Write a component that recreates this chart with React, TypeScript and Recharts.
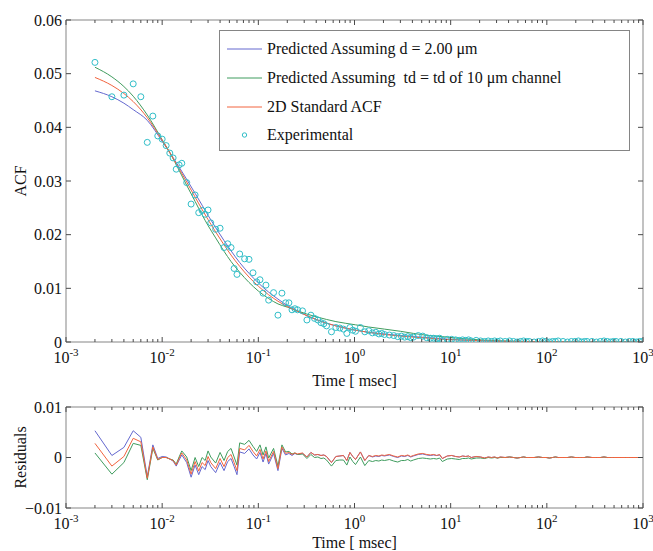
import React from "react"
import {
  ComposedChart,
  LineChart,
  Line,
  Scatter,
  XAxis,
  YAxis,
  ReferenceLine,
  Legend,
} from "recharts"

// lag times of the correlator (msec)
const TIME = [
  0.002, 0.003, 0.004, 0.005, 0.006, 0.007, 0.008, 0.009, 0.01, 0.011, 0.012, 0.013, 0.014, 0.015, 0.016,
  0.018, 0.02, 0.022, 0.024, 0.026, 0.028, 0.03, 0.032,
  0.036, 0.04, 0.044, 0.048, 0.052, 0.056, 0.06, 0.064,
  0.072, 0.08, 0.088, 0.096, 0.104, 0.112, 0.12, 0.128,
  0.144, 0.16, 0.176, 0.192, 0.208, 0.224, 0.24, 0.256,
  0.288, 0.32, 0.352, 0.384, 0.416, 0.448, 0.48, 0.512,
  0.576, 0.64, 0.704, 0.768, 0.832, 0.896, 0.96, 1.024,
  1.152, 1.28, 1.408, 1.536, 1.664, 1.792, 1.92, 2.048,
  2.304, 2.56, 2.816, 3.072, 3.328, 3.584, 3.84, 4.096,
  4.608, 5.12, 5.632, 6.144, 6.656, 7.168, 7.68, 8.192,
  9.216, 10.24, 11.26, 12.29, 13.31, 14.34, 15.36, 16.38,
  18.43, 20.48, 22.53, 24.58, 26.62, 28.67, 30.72, 32.77,
  36.86, 40.96, 45.06, 49.15, 53.25, 57.34, 61.44, 65.54,
  73.73, 81.92, 90.11, 98.3, 106.5, 114.7, 122.9, 131.1,
  147.5, 163.8, 180.2, 196.6, 213.0, 229.4, 245.8, 262.1,
  294.9, 327.7, 360.4, 393.2, 426.0, 458.8, 491.5, 524.3,
  589.8, 655.4, 720.9, 786.4, 851.9, 917.5, 983.0,
]

const EXPERIMENTAL = [
  0.0521, 0.0457, 0.046, 0.0481, 0.0457, 0.0372, 0.0421, 0.0384, 0.0378, 0.0366, 0.0352, 0.0343, 0.0322, 0.033, 0.0333,
  0.0297, 0.0257, 0.0274, 0.0241, 0.0245, 0.0238, 0.0246, 0.0222,
  0.021, 0.0212, 0.0176, 0.0183, 0.0176, 0.0137, 0.0126, 0.0164,
  0.0155, 0.0154, 0.0129, 0.0112, 0.0116, 0.0091, 0.0106, 0.0078,
  0.0092, 0.005, 0.0091, 0.0073, 0.0073, 0.006, 0.0062, 0.006,
  0.0058, 0.0041, 0.005, 0.0044, 0.0041, 0.0036, 0.0034, 0.003,
  0.0019, 0.0027, 0.0026, 0.0024, 0.0016, 0.0027, 0.0022, 0.002,
  0.0027, 0.0019, 0.0021, 0.0017, 0.0018, 0.0015, 0.0016, 0.0014,
  0.0013, 0.0012, 0.001, 0.0011, 0.0009, 0.001, 0.0008, 0.0009,
  0.0012, 0.0011, 0.0008, 0.0007, 0.0007, 0.0006, 0.0007, 0.0003,
  0.0005, 0.0005, 0.0004, 0.0003, 0.0004, 0.0003, 0.0004, 0.0002,
  0.0003, 0.0002, 0.0001, 0.0002, 0.0001, 0.0002, 0.0001, 0.0002,
  0.0001, 0.0002, 0.0001, 0.0, 0.0001, 0.0002, 0.0001, 0.0001,
  0.0, 0.0001, 0.0002, 0.0001, 0.0, 0.0001, 0.0001, 0.0002,
  0.0001, 0.0, 0.0001, 0.0001, 0.0002, 0.0, 0.0001, 0.0001,
  0.0001, 0.0, 0.0001, 0.0002, 0.0001, 0.0, 0.0001, 0.0001,
  0.0001, 0.0, 0.0001, 0.0001, 0.0, 0.0001, 0.0001,
]

const RES_BLUE = [
  0.0053, 0.0004, 0.002, 0.0053, 0.004, -0.0038, 0.0025, -0.0002, 0.0002, 0.0001, -0.0003, -0.0007, -0.0017, -0.0005, 0.0005,
  -0.001, -0.0039, -0.0015, -0.0034, -0.0018, -0.0024, -0.0006, -0.0018,
  -0.003, -0.001, -0.0026, -0.0008, -0.0002, -0.0018, -0.0034, 0.0011,
  0.0008, 0.0017, 0.0005, -0.0003, 0.001, -0.0009, 0.0008, -0.0013,
  0.0008, -0.0026, 0.0018, 0.0005, 0.0008, 0.0004, 0.0008, 0.0006,
  0.0008, 0.0001, 0.001, 0.0005, 0.0006, 0.0004, 0.0005, 0.0002,
  -0.001, 0.0002, 0.0003, 0.0004, -0.0006, 0.001, 0.0002, -0.0004,
  0.0011, -0.0006, 0.0004, 0.0001, 0.0003, 0.0002, 0.0004, 0.0003,
  0.0005, 0.0002, 0.0, 0.0003, 0.0002, 0.0004, 0.0001, 0.0003,
  0.0006, 0.0007, 0.0005, 0.0004, 0.0005, 0.0004, 0.0005, -0.0002,
  0.0003, 0.0004, 0.0002, 0.0001, 0.0003, 0.0002, 0.0003, 0.0,
  0.0002, 0.0001, -0.0001, 0.0001, 0.0, 0.0001, -0.0001, 0.0001,
  0.0, 0.0001, 0.0, -0.0001, 0.0, 0.0001, 0.0, 0.0,
  0.0, 0.0001, 0.0, 0.0, -0.0001, 0.0, 0.0001, 0.0,
  0.0, 0.0, 0.0001, 0.0, 0.0, 0.0, 0.0, 0.0001,
  0.0, 0.0, 0.0, 0.0001, 0.0, 0.0, 0.0, 0.0,
  0.0, 0.0, 0.0, 0.0, 0.0, 0.0, 0.0,
]

const RES_GREEN = [
  0.0009, -0.0033, -0.001, 0.0028, 0.0024, -0.0044, 0.0018, -0.0005, 0.0, 0.0, -0.0003, -0.0005, -0.0013, 0.0001, 0.0013,
  0.0001, -0.0026, 0.0, -0.0018, 0.0, -0.0006, 0.0013, 0.0001,
  -0.0011, 0.001, -0.0006, 0.0012, 0.0018, 0.0001, -0.0015, 0.0029,
  0.0026, 0.0034, 0.0022, 0.0012, 0.0025, 0.0005, 0.0021, -0.0001,
  0.0018, -0.0017, 0.0025, 0.0011, 0.0012, 0.0007, 0.0009, 0.0006,
  0.0007, -0.0002, 0.0006, 0.0, 0.0001, -0.0002, -0.0001, -0.0005,
  -0.0017, -0.0006, -0.0005, -0.0005, -0.0015, 0.0001, -0.0008, -0.0014,
  0.0001, -0.0016, -0.0006, -0.0008, -0.0006, -0.0007, -0.0005, -0.0006,
  -0.0004, -0.0007, -0.0009, -0.0006, -0.0006, -0.0004, -0.0007, -0.0005,
  -0.0002, -0.0001, -0.0002, -0.0003, -0.0002, -0.0003, -0.0001, -0.0008,
  -0.0003, -0.0002, -0.0003, -0.0004, -0.0002, -0.0002, -0.0001, -0.0003,
  -0.0001, -0.0001, -0.0002, 0.0, -0.0001, 0.0, -0.0001, 0.0,
  0.0, 0.0001, 0.0, -0.0001, 0.0, 0.0001, 0.0, 0.0,
  0.0, 0.0001, 0.0, 0.0, -0.0001, 0.0, 0.0001, 0.0,
  0.0, 0.0, 0.0001, 0.0, 0.0, 0.0, 0.0, 0.0001,
  0.0, 0.0, 0.0, 0.0001, 0.0, 0.0, 0.0, 0.0,
  0.0, 0.0, 0.0, 0.0, 0.0, 0.0, 0.0,
]

const RES_RED = [
  0.0028, -0.0017, 0.0002, 0.0038, 0.0031, -0.0041, 0.0021, -0.0004, 0.0, 0.0, -0.0003, -0.0006, -0.0015, -0.0002, 0.0009,
  -0.0005, -0.0033, -0.0008, -0.0027, -0.001, -0.0016, 0.0002, -0.001,
  -0.0022, -0.0002, -0.0018, 0.0, 0.0006, -0.001, -0.0026, 0.0018,
  0.0015, 0.0024, 0.0012, 0.0003, 0.0016, -0.0003, 0.0013, -0.0008,
  0.0012, -0.0022, 0.0021, 0.0008, 0.001, 0.0006, 0.0009, 0.0007,
  0.0009, 0.0001, 0.001, 0.0005, 0.0006, 0.0004, 0.0005, 0.0002,
  -0.001, 0.0002, 0.0003, 0.0004, -0.0006, 0.001, 0.0002, -0.0004,
  0.0011, -0.0006, 0.0004, 0.0002, 0.0004, 0.0003, 0.0005, 0.0004,
  0.0006, 0.0003, 0.0001, 0.0004, 0.0003, 0.0005, 0.0002, 0.0004,
  0.0007, 0.0008, 0.0006, 0.0005, 0.0006, 0.0004, 0.0006, -0.0002,
  0.0003, 0.0004, 0.0002, 0.0001, 0.0003, 0.0002, 0.0003, 0.0,
  0.0002, 0.0001, -0.0001, 0.0001, 0.0, 0.0001, -0.0001, 0.0001,
  0.0, 0.0001, 0.0, -0.0001, 0.0, 0.0001, 0.0, 0.0,
  0.0, 0.0001, 0.0, 0.0, -0.0001, 0.0, 0.0001, 0.0,
  0.0, 0.0, 0.0001, 0.0, 0.0, 0.0, 0.0, 0.0001,
  0.0, 0.0, 0.0, 0.0001, 0.0, 0.0, 0.0, 0.0,
  0.0, 0.0, 0.0, 0.0, 0.0, 0.0, 0.0,
]

// model curves, sampled more coarsely
const FIT_TIME = [
  0.002, 0.003, 0.004, 0.005, 0.007, 0.01, 0.012, 0.015, 0.018, 0.022,
  0.026, 0.03, 0.036, 0.044, 0.052, 0.064, 0.08, 0.1, 0.128, 0.16,
  0.2, 0.256, 0.32, 0.4, 0.512, 0.64, 0.8, 1.024, 1.4, 2.048,
  3, 4.096, 6, 8.192, 12, 16.38, 25, 32.77, 50, 65.5,
  100, 131, 262, 524, 1000,
]

const FIT_BLUE = [
  0.0468, 0.0457, 0.0445, 0.0433, 0.0413, 0.0374, 0.0353, 0.0326, 0.0303, 0.0277,
  0.0255, 0.0236, 0.0213, 0.0189, 0.017, 0.0148, 0.0128, 0.011, 0.0093, 0.008,
  0.0068, 0.0058, 0.0049, 0.0042, 0.0035, 0.003, 0.0026, 0.0022, 0.0018, 0.0015,
  0.0012, 0.001, 0.0008, 0.0006, 0.0004, 0.0003, 0.0002, 0.00015, 0.0001, 0.00008,
  0.00005, 0.00004, 0.00002, 0.00001, 0,
]

const FIT_GREEN = [
  0.0512, 0.0494, 0.0476, 0.0458, 0.0423, 0.0377, 0.0353, 0.032, 0.0292, 0.0262,
  0.0237, 0.0217, 0.0194, 0.0169, 0.015, 0.013, 0.0111, 0.0095, 0.0081, 0.0071,
  0.0065, 0.0058, 0.0052, 0.0047, 0.0042, 0.0038, 0.0035, 0.0032, 0.0028, 0.0024,
  0.002, 0.0016, 0.0012, 0.001, 0.0007, 0.0005, 0.0003, 0.0002, 0.00012, 0.0001,
  0.00006, 0.00004, 0.00002, 0.00001, 0,
]

const FIT_RED = [
  0.0493, 0.0478, 0.0463, 0.0448, 0.0418, 0.0376, 0.0353, 0.0323, 0.0298, 0.027,
  0.0247, 0.0228, 0.0205, 0.0181, 0.0162, 0.0141, 0.0121, 0.0104, 0.0088, 0.0076,
  0.0066, 0.0057, 0.0049, 0.0042, 0.0035, 0.003, 0.0026, 0.0022, 0.0018, 0.0014,
  0.0011, 0.0009, 0.0007, 0.0005, 0.0004, 0.0003, 0.0002, 0.00015, 0.0001, 0.00008,
  0.00005, 0.00004, 0.00002, 0.00001, 0,
]

const X_MAJOR = [0.001, 0.01, 0.1, 1, 10, 100, 1000]
const X_MINOR = [
  0.002, 0.003, 0.004, 0.005, 0.006, 0.007, 0.008, 0.009,
  0.02, 0.03, 0.04, 0.05, 0.06, 0.07, 0.08, 0.09,
  0.2, 0.3, 0.4, 0.5, 0.6, 0.7, 0.8, 0.9,
  2, 3, 4, 5, 6, 7, 8, 9,
  20, 30, 40, 50, 60, 70, 80, 90,
  200, 300, 400, 500, 600, 700, 800, 900,
]
const ACF_TICKS = [0, 0.01, 0.02, 0.03, 0.04, 0.05, 0.06]
const RES_TICKS = [-0.01, 0, 0.01]

const LEGEND_NAMES = [
  "Predicted Assuming d = 2.00 \u03bcm",
  "Predicted Assuming  td = td of 10 \u03bcm channel",
  "2D Standard ACF",
  "Experimental",
]

const FONT = '"Liberation Serif", "Times New Roman", serif'
const BOX = "#858585"
const TICK = "#4a4a4a"
const BLUE = "#6468cf"
const GREEN = "#3f9c5e"
const RED = "#f2643f"
const CYAN = "#30bec8"

const WIDTH = 653
const PLOT_LEFT = 66
const PLOT_RIGHT = 10
const PLOT_W = WIDTH - PLOT_LEFT - PLOT_RIGHT
const TOP_H = 392
const TOP_MARGIN = 20
const TOP_AXIS_H = 50
const TOP_PLOT_H = TOP_H - TOP_MARGIN - TOP_AXIS_H
const RES_H = 159
const RES_MARGIN = 15
const RES_AXIS_H = 43
const RES_PLOT_H = RES_H - RES_MARGIN - RES_AXIS_H

const xTicks = [...X_MAJOR, ...X_MINOR]
const expPoints = TIME.map((t, i) => ({ t, v: EXPERIMENTAL[i] }))
const fitPoints = (vals: number[]) => FIT_TIME.map((t, i) => ({ t, v: vals[i] }))
const resPoints = (vals: number[]) => TIME.map((t, i) => ({ t, v: vals[i] }))

function LogTick(props: any) {
  const { x, y, payload, plotH } = props
  const p = Math.log10(payload.value)
  const major = Math.abs(p - Math.round(p)) < 1e-6
  const len = major ? 5 : 3
  return (
    <g>
      <line x1={x} x2={x} y1={y} y2={y - len} stroke={TICK} />
      <line x1={x} x2={x} y1={y - plotH} y2={y - plotH + len} stroke={TICK} />
      {major ? (
        <text x={x} y={y + 21} textAnchor="middle" fontSize={16} fill="#111">
          10<tspan dy={-7} fontSize={11}>{Math.round(p)}</tspan>
        </text>
      ) : null}
    </g>
  )
}

function ValueTick(props: any) {
  const { x, y, payload, fmt } = props
  return (
    <g>
      <line x1={x} x2={x + 5} y1={y} y2={y} stroke={TICK} />
      <line x1={x + PLOT_W} x2={x + PLOT_W - 5} y1={y} y2={y} stroke={TICK} />
      <text x={x - 4} y={y} dy="0.35em" textAnchor="end" fontSize={16} fill="#111">
        {fmt(payload.value)}
      </text>
    </g>
  )
}

const fmtAcf = (v: number) => (v === 0 ? "0" : v.toFixed(2))
const fmtRes = (v: number) => (v === 0 ? "0" : v < 0 ? "\u2212" + Math.abs(v).toFixed(2) : v.toFixed(2))

const Ring = (p: any) => (
  <circle cx={p.cx} cy={p.cy} r={3} fill="none" stroke={CYAN} strokeWidth={1} />
)

function LegendBox() {
  const colors = [BLUE, GREEN, RED, CYAN]
  return (
    <div
      style={{
        width: 411,
        height: 121,
        boxSizing: "border-box",
        border: `1px solid ${BOX}`,
        background: "#fff",
        paddingTop: 4,
        fontFamily: FONT,
        fontSize: 16,
        color: "#111",
      }}
    >
      {LEGEND_NAMES.map((name, i) => (
        <div key={name} style={{ height: 28.7, display: "flex", alignItems: "center", whiteSpace: "pre" }}>
          <svg width={35} height={10} style={{ marginLeft: 7, marginRight: 5 }}>
            {i < 3 ? (
              <line x1={0} x2={35} y1={5} y2={5} stroke={colors[i]} />
            ) : (
              <circle cx={17.5} cy={5} r={2.2} fill="none" stroke={CYAN} />
            )}
          </svg>
          <span>{name}</span>
        </div>
      ))}
    </div>
  )
}

const xTitle = (baseline: number) => () => (
  <text x={PLOT_LEFT + PLOT_W / 2} y={baseline} textAnchor="middle" fontSize={16} fill="#111">
    Time [ msec]
  </text>
)

const yTitle = (text: string, center: number) => () => (
  <text
    transform={`translate(20, ${center}) rotate(-90)`}
    dy="0.35em"
    textAnchor="middle"
    fontSize={16}
    fill="#111"
  >
    {text}
  </text>
)

export default function App() {
  return (
    <div
      style={{
        position: "absolute",
        left: 0,
        top: 0,
        width: WIDTH,
        height: TOP_H + RES_H,
        background: "#fff",
        fontFamily: FONT,
      }}
    >
      <div style={{ position: "absolute", left: 0, top: 0 }}>
        <ComposedChart
          width={WIDTH}
          height={TOP_H}
          margin={{ top: TOP_MARGIN, right: PLOT_RIGHT, bottom: 0, left: 0 }}
        >
          <XAxis
            xAxisId="time"
            dataKey="t"
            type="number"
            scale="log"
            domain={[0.001, 1000]}
            allowDataOverflow
            ticks={xTicks}
            interval={0}
            height={TOP_AXIS_H}
            tickSize={0}
            tickMargin={0}
            tickLine={false}
            axisLine={{ stroke: BOX }}
            tick={(p: any) => <LogTick {...p} plotH={TOP_PLOT_H} />}
            label={xTitle(TOP_H - 6)}
          />
          <YAxis
            yAxisId="acf"
            type="number"
            domain={[0, 0.06]}
            allowDataOverflow
            ticks={ACF_TICKS}
            interval={0}
            width={PLOT_LEFT}
            tickSize={0}
            tickMargin={0}
            tickLine={false}
            axisLine={{ stroke: BOX }}
            tick={(p: any) => <ValueTick {...p} fmt={fmtAcf} />}
            label={yTitle("ACF", TOP_MARGIN + TOP_PLOT_H / 2)}
          />
          <ReferenceLine xAxisId="time" yAxisId="acf" y={0.06} stroke={BOX} />
          <ReferenceLine xAxisId="time" yAxisId="acf" x={1000} stroke={BOX} />
          <Line
            xAxisId="time"
            yAxisId="acf"
            data={fitPoints(FIT_BLUE)}
            dataKey="v"
            type="monotone"
            stroke={BLUE}
            strokeWidth={1}
            dot={false}
            isAnimationActive={false}
          />
          <Line
            xAxisId="time"
            yAxisId="acf"
            data={fitPoints(FIT_GREEN)}
            dataKey="v"
            type="monotone"
            stroke={GREEN}
            strokeWidth={1}
            dot={false}
            isAnimationActive={false}
          />
          <Line
            xAxisId="time"
            yAxisId="acf"
            data={fitPoints(FIT_RED)}
            dataKey="v"
            type="monotone"
            stroke={RED}
            strokeWidth={1}
            dot={false}
            isAnimationActive={false}
          />
          <Scatter
            xAxisId="time"
            yAxisId="acf"
            data={expPoints}
            dataKey="v"
            shape={Ring}
            isAnimationActive={false}
          />
          <Legend
            layout="vertical"
            align="center"
            verticalAlign="middle"
            wrapperStyle={{ left: 219, top: 30, width: 411 }}
            content={() => <LegendBox />}
          />
        </ComposedChart>
      </div>

      <div style={{ position: "absolute", left: 0, top: TOP_H }}>
        <LineChart
          width={WIDTH}
          height={RES_H}
          margin={{ top: RES_MARGIN, right: PLOT_RIGHT, bottom: 0, left: 0 }}
        >
          <XAxis
            xAxisId="time"
            dataKey="t"
            type="number"
            scale="log"
            domain={[0.001, 1000]}
            allowDataOverflow
            ticks={xTicks}
            interval={0}
            height={RES_AXIS_H}
            tickSize={0}
            tickMargin={0}
            tickLine={false}
            axisLine={{ stroke: BOX }}
            tick={(p: any) => <LogTick {...p} plotH={RES_PLOT_H} />}
            label={xTitle(RES_H - 3)}
          />
          <YAxis
            yAxisId="res"
            type="number"
            domain={[-0.01, 0.01]}
            allowDataOverflow
            ticks={RES_TICKS}
            interval={0}
            width={PLOT_LEFT}
            tickSize={0}
            tickMargin={0}
            tickLine={false}
            axisLine={{ stroke: BOX }}
            tick={(p: any) => <ValueTick {...p} fmt={fmtRes} />}
            label={yTitle("Residuals", RES_MARGIN + RES_PLOT_H / 2)}
          />
          <ReferenceLine xAxisId="time" yAxisId="res" y={0.01} stroke={BOX} />
          <ReferenceLine xAxisId="time" yAxisId="res" x={1000} stroke={BOX} />
          <Line
            xAxisId="time"
            yAxisId="res"
            data={resPoints(RES_BLUE)}
            dataKey="v"
            stroke={BLUE}
            strokeWidth={1}
            dot={false}
            isAnimationActive={false}
          />
          <Line
            xAxisId="time"
            yAxisId="res"
            data={resPoints(RES_GREEN)}
            dataKey="v"
            stroke={GREEN}
            strokeWidth={1}
            dot={false}
            isAnimationActive={false}
          />
          <Line
            xAxisId="time"
            yAxisId="res"
            data={resPoints(RES_RED)}
            dataKey="v"
            stroke={RED}
            strokeWidth={1}
            dot={false}
            isAnimationActive={false}
          />
        </LineChart>
      </div>
    </div>
  )
}
